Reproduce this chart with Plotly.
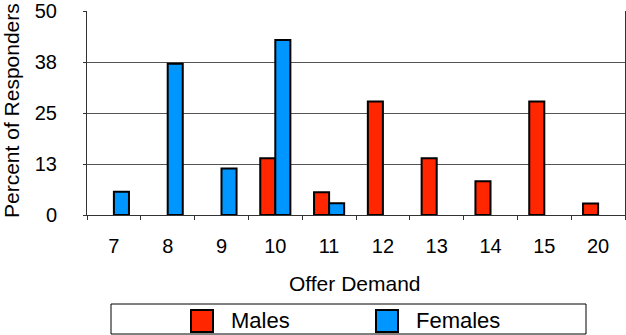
import plotly.graph_objects as go

# Offer demand categories and share of responders (%) by sex; None = no bar
offer_demand = ["7", "8", "9", "10", "11", "12", "13", "14", "15", "20"]
males = [None, None, None, 13.9, 5.6, 27.8, 13.9, 8.3, 27.8, 2.8]
females = [5.7, 37.1, 11.4, 42.9, 2.9, None, None, None, None, None]
y_tick_vals = [0, 12.5, 25, 37.5, 50]
y_tick_text = ["0", "13", "25", "38", "50"]

series = [("Males", males, "#FF2600"), ("Females", females, "#0096FF")]

FONT = "Liberation Sans, Arial, Helvetica, sans-serif"
AXIS_COLOR = "#333333"

# plot area in pixels
L, R, T, B = 87, 625, 11, 215
W, H = R - L, B - T


def px_x(x):
    return (x - L) / W


def px_y(y):
    return (B - y) / H


fig = go.Figure()
for name, vals, color in series:
    fig.add_trace(go.Bar(
        x=offer_demand, y=vals, name=name,
        marker=dict(color=color, line=dict(color="black", width=2)),
        showlegend=False,
    ))

fig.update_layout(
    width=626, height=335,
    margin=dict(l=L, r=626 - R, t=T, b=335 - B),
    paper_bgcolor="white", plot_bgcolor="white",
    barmode="group", bargap=0.44, bargroupgap=0,
    font=dict(family=FONT, size=20, color="black"),
)

fig.update_xaxes(
    type="category",
    tickson="boundaries",
    ticks="outside", ticklen=4, tickcolor=AXIS_COLOR, tickwidth=1,
    showline=True, linecolor=AXIS_COLOR, linewidth=1,
    showgrid=False,
    ticklabelstandoff=13,
    tickfont=dict(size=20),
)
fig.update_yaxes(
    range=[0, 50],
    tickvals=y_tick_vals, ticktext=y_tick_text,
    ticks="outside", ticklen=3, tickcolor=AXIS_COLOR,
    showline=True, linecolor=AXIS_COLOR, linewidth=1, mirror=True,
    showgrid=True, gridcolor="#555555", gridwidth=1,
    zeroline=False,
    ticklabelstandoff=22,
    tickfont=dict(size=20),
)

# axis titles
fig.add_annotation(xref="paper", yref="paper", x=px_x(355), y=px_y(283),
                   text="Offer Demand", showarrow=False,
                   xanchor="center", yanchor="middle",
                   font=dict(family=FONT, size=21, color="black"))
fig.add_annotation(xref="paper", yref="paper", x=px_x(11), y=px_y(111),
                   text="Percent of Responders", showarrow=False, textangle=-90,
                   xanchor="center", yanchor="middle",
                   font=dict(family=FONT, size=21, color="black"))

# boxed legend below the axis title
fig.add_shape(type="rect", xref="paper", yref="paper",
              x0=px_x(111), x1=px_x(586), y0=px_y(334), y1=px_y(304),
              line=dict(color="black", width=1), fillcolor="white")
legend_x = [191, 376]
for (name, _, color), px in zip(series, legend_x):
    fig.add_shape(type="rect", xref="paper", yref="paper",
                  x0=px_x(px), x1=px_x(px + 22),
                  y0=px_y(332), y1=px_y(310),
                  line=dict(color="black", width=2), fillcolor=color)
    fig.add_annotation(xref="paper", yref="paper",
                       x=px_x(px + 38), y=px_y(320),
                       text=name, showarrow=False, xanchor="left", yanchor="middle",
                       font=dict(family=FONT, size=22, color="black"))

fig.write_html("out.html")
